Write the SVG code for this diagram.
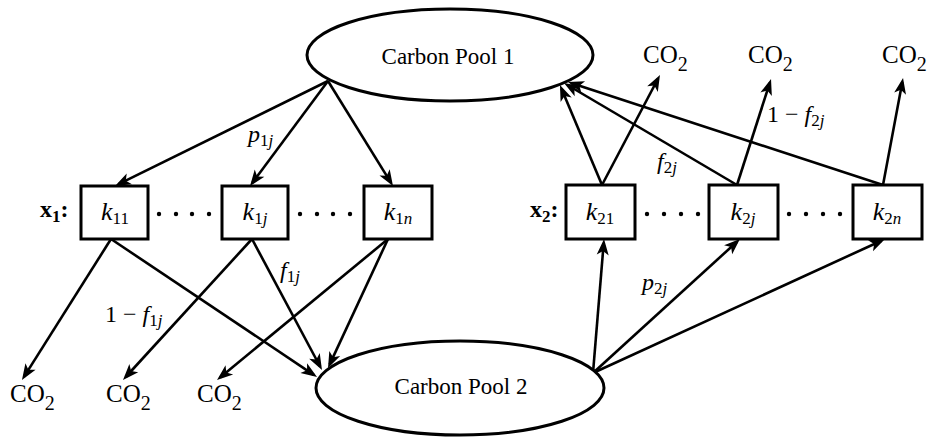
<svg xmlns="http://www.w3.org/2000/svg" width="928" height="437" viewBox="0 0 928 437">
  <style>
    .pool { fill: #fff; stroke: #000; stroke-width: 3; }
    .box { fill: #fff; stroke: #000; stroke-width: 3; }
    .edge { stroke: #000; stroke-width: 2.6; fill: none; marker-end: url(#arrow); }
    .t { font-family: "Liberation Serif", "DejaVu Serif", serif; fill: #000; }
    .poolLabel { font-size: 23px; text-anchor: middle; }
    .kLabel { font-size: 26px; font-style: italic; text-anchor: middle; }
    .sub { font-size: 17px; }
    .math { font-size: 24px; }
    .co2 { font-size: 25px; }
    .co2sub { font-size: 20px; }
    .vec { font-size: 24px; font-weight: bold; }
    .dot { fill: #000; }
  </style>
  <defs>
    <marker id="arrow" markerUnits="userSpaceOnUse" viewBox="-13 -7 18 14" refX="0" refY="0" markerWidth="18" markerHeight="14" orient="auto" overflow="visible">
      <path d="M4,0 L-12,-6 L-8,0 L-12,6 Z" fill="#000"/>
    </marker>
  </defs>

  <rect width="928" height="437" fill="#fff"/>

  <!-- connectors -->
  <g id="connectors">
    <!-- Carbon Pool 1 to first compartment set -->
    <line class="edge" x1="328" y1="81" x2="118.6" y2="184.2"/>
    <line class="edge" x1="328" y1="81" x2="252.4" y2="182.8"/>
    <line class="edge" x1="328" y1="81" x2="390.9" y2="182.6"/>
    <!-- first set: losses to CO2 and transfers to Carbon Pool 2 -->
    <line class="edge" x1="111" y1="239" x2="24.1" y2="376.6"/>
    <line class="edge" x1="111" y1="239" x2="313.7" y2="374.8"/>
    <line class="edge" x1="252" y1="239" x2="125.7" y2="377"/>
    <line class="edge" x1="252" y1="239" x2="320.1" y2="366.5"/>
    <line class="edge" x1="388" y1="239" x2="220.1" y2="377.5"/>
    <line class="edge" x1="388" y1="239" x2="329.7" y2="364.4"/>
    <!-- Carbon Pool 2 to second compartment set -->
    <line class="edge" x1="593" y1="373" x2="603.7" y2="243"/>
    <line class="edge" x1="593" y1="373" x2="737" y2="241.7"/>
    <line class="edge" x1="593" y1="373" x2="881.4" y2="240.7"/>
    <!-- second set: transfers to Carbon Pool 1 and losses to CO2 -->
    <line class="edge" x1="602" y1="185" x2="561.5" y2="88.7"/>
    <line class="edge" x1="602" y1="185" x2="658.1" y2="78.5"/>
    <line class="edge" x1="737" y1="185" x2="567.4" y2="85"/>
    <line class="edge" x1="737" y1="185" x2="769.8" y2="82.8"/>
    <line class="edge" x1="883" y1="185" x2="571.8" y2="83.2"/>
    <line class="edge" x1="883" y1="185" x2="902.3" y2="81.9"/>
  </g>

  <!-- pools -->
  <g id="pool1">
    <ellipse class="pool" cx="450" cy="55" rx="143" ry="46"/>
    <text class="t poolLabel" x="448" y="64">Carbon Pool 1</text>
  </g>
  <g id="pool2">
    <ellipse class="pool" cx="460" cy="388" rx="144" ry="47"/>
    <text class="t poolLabel" x="461" y="394">Carbon Pool 2</text>
  </g>

  <!-- first compartment set -->
  <g id="x1-label">
    <text class="t vec" x="40" y="217">x<tspan class="sub" dy="5">1</tspan><tspan dy="-5">:</tspan></text>
  </g>
  <g id="k11">
    <rect class="box" x="81" y="186" width="67" height="53"/>
    <text class="t kLabel" x="115" y="220">k<tspan class="sub" font-style="normal" dy="4">11</tspan></text>
  </g>
  <g id="k1j">
    <rect class="box" x="222" y="186" width="66" height="53"/>
    <text class="t kLabel" x="255" y="220">k<tspan class="sub" font-style="normal" dy="4">1</tspan><tspan class="sub">j</tspan></text>
  </g>
  <g id="k1n">
    <rect class="box" x="364" y="186" width="68" height="53"/>
    <text class="t kLabel" x="398" y="220">k<tspan class="sub" font-style="normal" dy="4">1</tspan><tspan class="sub">n</tspan></text>
  </g>
  <g id="dots1">
    <circle class="dot" cx="159" cy="214" r="2.2"/>
    <circle class="dot" cx="176" cy="214" r="2.2"/>
    <circle class="dot" cx="192" cy="214" r="2.2"/>
    <circle class="dot" cx="209" cy="214" r="2.2"/>
    <circle class="dot" cx="300" cy="214" r="2.2"/>
    <circle class="dot" cx="317" cy="214" r="2.2"/>
    <circle class="dot" cx="333" cy="214" r="2.2"/>
    <circle class="dot" cx="350" cy="214" r="2.2"/>
  </g>

  <!-- second compartment set -->
  <g id="x2-label">
    <text class="t vec" x="530" y="217">x<tspan class="sub" dy="5">2</tspan><tspan dy="-5">:</tspan></text>
  </g>
  <g id="k21">
    <rect class="box" x="566" y="185" width="69" height="54"/>
    <text class="t kLabel" x="600" y="220">k<tspan class="sub" font-style="normal" dy="4">21</tspan></text>
  </g>
  <g id="k2j">
    <rect class="box" x="709" y="185" width="69" height="54"/>
    <text class="t kLabel" x="743" y="220">k<tspan class="sub" font-style="normal" dy="4">2</tspan><tspan class="sub">j</tspan></text>
  </g>
  <g id="k2n">
    <rect class="box" x="853" y="185" width="69" height="54"/>
    <text class="t kLabel" x="887" y="220">k<tspan class="sub" font-style="normal" dy="4">2</tspan><tspan class="sub">n</tspan></text>
  </g>
  <g id="dots2">
    <circle class="dot" cx="647" cy="214" r="2.2"/>
    <circle class="dot" cx="664" cy="214" r="2.2"/>
    <circle class="dot" cx="681" cy="214" r="2.2"/>
    <circle class="dot" cx="698" cy="214" r="2.2"/>
    <circle class="dot" cx="789" cy="214" r="2.2"/>
    <circle class="dot" cx="806" cy="214" r="2.2"/>
    <circle class="dot" cx="823" cy="214" r="2.2"/>
    <circle class="dot" cx="840" cy="214" r="2.2"/>
  </g>

  <!-- CO2 outlets -->
  <g id="co2-bottom">
    <text class="t co2" x="10" y="402">CO<tspan class="co2sub" dy="8">2</tspan></text>
    <text class="t co2" x="106" y="402">CO<tspan class="co2sub" dy="8">2</tspan></text>
    <text class="t co2" x="197" y="402">CO<tspan class="co2sub" dy="8">2</tspan></text>
  </g>
  <g id="co2-top">
    <text class="t co2" x="643" y="63">CO<tspan class="co2sub" dy="8">2</tspan></text>
    <text class="t co2" x="748" y="63">CO<tspan class="co2sub" dy="8">2</tspan></text>
    <text class="t co2" x="882" y="63">CO<tspan class="co2sub" dy="8">2</tspan></text>
  </g>

  <!-- connector labels -->
  <g id="edge-labels">
    <text class="t math" x="248" y="142"><tspan font-style="italic">p</tspan><tspan class="sub" dy="4">1</tspan><tspan class="sub" font-style="italic">j</tspan></text>
    <text class="t math" x="280" y="278"><tspan font-style="italic">f</tspan><tspan class="sub" dy="4">1</tspan><tspan class="sub" font-style="italic">j</tspan></text>
    <text class="t math" x="105" y="322">1 − <tspan font-style="italic">f</tspan><tspan class="sub" dy="4">1</tspan><tspan class="sub" font-style="italic">j</tspan></text>
    <text class="t math" x="767" y="122">1 − <tspan font-style="italic">f</tspan><tspan class="sub" dy="4">2</tspan><tspan class="sub" font-style="italic">j</tspan></text>
    <text class="t math" x="657" y="169"><tspan font-style="italic">f</tspan><tspan class="sub" dy="4">2</tspan><tspan class="sub" font-style="italic">j</tspan></text>
    <text class="t math" x="642" y="290"><tspan font-style="italic">p</tspan><tspan class="sub" dy="4">2</tspan><tspan class="sub" font-style="italic">j</tspan></text>
  </g>
</svg>
